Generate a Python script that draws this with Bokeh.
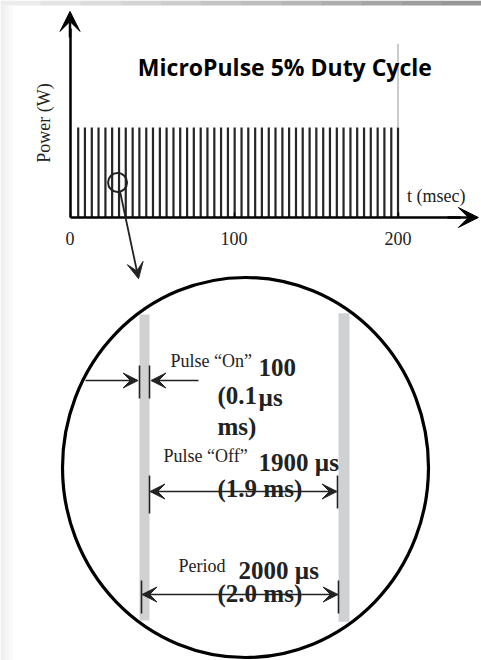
from bokeh.plotting import figure
from bokeh.models import (Range1d, LinearAxis, FixedTicker, Arrow, VeeHead)
from bokeh.core.properties import value
from bokeh.embed import file_html
from bokeh.resources import INLINE
import numpy as np

# ---------------- data ----------------
# pulse start times of the drawn pulse train (msec)
pulse_t = [5.0, 9.1, 13.3, 17.4, 21.6, 25.7, 29.9, 34.0, 38.2, 42.3, 46.5, 50.6,
           54.8, 58.9, 63.1, 67.2, 71.4, 75.5, 79.7, 83.8, 88.0, 92.1, 96.3, 100.4,
           104.6, 108.7, 112.9, 117.0, 121.2, 125.3, 129.5, 133.6, 137.8, 141.9, 146.1, 150.2,
           154.4, 158.5, 162.7, 166.8, 171.0, 175.1, 179.3, 183.4, 187.6, 191.7, 195.9, 200.0]
power_level = 1.0            # relative power of a pulse
x_ticks = [0, 100, 200]      # msec
x_tick_labels = ["0", "100", "200"]
title = "MicroPulse 5% Duty Cycle"
x_label = "t (msec)"
y_label = "Power (W)"

# inset (one period, µs)
on_start, on_end = 0, 100          # pulse "on"
next_start, next_end = 2000, 2100  # next pulse
off_label = ["Pulse \u201cOff\u201d", "1900 \u00b5s", "(1.9 ms)"]
on_label = ["Pulse \u201cOn\u201d", "100", "(0.1", "\u00b5s", "ms)"]
period_label = ["Period", "2000 \u00b5s", "(2.0 ms)"]

SERIF_NAME = "Liberation Serif"
SERIF = value(SERIF_NAME)

W, H = 481, 660
p = figure(width=W, height=H, output_backend="svg", toolbar_location=None,
           x_range=Range1d(-42.378, 250.91), y_range=Range1d(-4.9222, 2.4111),
           x_axis_type=None, y_axis_type=None, min_border=0,
           background_fill_color="white", border_fill_color="white")
p.outline_line_color = None
p.xgrid.visible = False
p.ygrid.visible = False
p.extra_x_ranges = {"us": Range1d(-1390, 3420)}
p.extra_y_ranges = {"row": Range1d(660, 0)}
R = dict(x_range_name="us", y_range_name="row")

# ---------------- picture frame (scan border) ----------------
n = 12
edges = np.linspace(-1390, 3420, n + 1)
greys = np.linspace(236, 150, n).astype(int)
p.quad(left=edges[:-1], right=edges[1:] + 5, top=[0] * n, bottom=[5] * n,
       fill_color=["#%02x%02x%02x" % (g, g, g) for g in greys], line_color=None, **R)
m = 4
ledges = np.linspace(-1390, -1270, m + 1)
lgreys = np.linspace(238, 250, m).astype(int)
p.quad(left=ledges[:-1], right=ledges[1:] + 2, top=[5] * m, bottom=[660] * m,
       fill_color=["#%02x%02x%02x" % (g, g, g) for g in lgreys], line_color=None, **R)

# ---------------- top chart ----------------
p.vbar(x=pulse_t, width=1.35, bottom=0, top=power_level, fill_color="#262626",
       line_color=None)
# faint right edge line
p.segment(x0=[200], y0=[power_level], x1=[200], y1=[1.93], line_color="#999999", line_width=1)

xaxis = LinearAxis(fixed_location=0, bounds=(0, 238), ticker=FixedTicker(ticks=x_ticks),
                   major_label_overrides={t: l for t, l in zip(x_ticks, x_tick_labels)},
                   axis_line_width=2.5, axis_line_color="black",
                   major_tick_in=5, major_tick_out=0, major_tick_line_width=1.5,
                   minor_tick_line_color=None, major_label_standoff=15,
                   major_label_text_font=SERIF_NAME, major_label_text_font_size="18px",
                   major_label_text_color="#222222")
p.add_layout(xaxis, "below")
yaxis = LinearAxis(fixed_location=0, bounds=(0, 2.1), ticker=FixedTicker(ticks=[]),
                   axis_line_width=2.5, axis_line_color="black",
                   major_tick_out=0, major_tick_in=0, minor_tick_line_color=None,
                   axis_label=y_label, axis_label_text_font=SERIF_NAME,
                   axis_label_text_font_size="18px", axis_label_text_font_style="normal",
                   axis_label_text_color="#222222", axis_label_standoff=17)
p.add_layout(yaxis, "left")

p.add_layout(Arrow(x_start=0, y_start=2.0, x_end=0, y_end=2.29,
                   end=VeeHead(size=20, fill_color="black", line_color="black"),
                   line_width=2.5, line_color="black"))
p.add_layout(Arrow(x_start=230, y_start=0, x_end=249.0, y_end=0,
                   end=VeeHead(size=20, fill_color="black", line_color="black"),
                   line_width=2.5, line_color="black"))

p.text(x=[131.0], y=[1.667], text=[title], text_font=value("Open Sans"),
       text_font_style="bold", text_font_size="23px", text_align="center",
       text_baseline="alphabetic", text_color="black")
p.text(x=[205.5], y=[0.244], text=[x_label], text_font=SERIF, text_font_size="18px",
       text_baseline="alphabetic", text_color="#222222")

# magnifier circle and pointer
p.scatter(x=[29.0], y=[0.389], marker="circle", size=19, fill_color=None,
          line_color="#222222", line_width=2)
p.add_layout(Arrow(x_start=30.6, y_start=0.28, x_end=41.8, y_end=-0.68,
                   end=VeeHead(size=16, fill_color="#222222", line_color="#222222"),
                   line_width=1.8, line_color="#222222"))

# ---------------- inset ----------------
cx, cy, ew, eh = 1060, 467, 3660, 380

def band_extent(x_us):
    dx = (x_us - cx) / (ew / 2)
    half = (eh / 2) * np.sqrt(max(0.0, 1 - dx * dx))
    return cy - half + 2, cy + half - 2

bands_l = [on_start, next_start - 10]
bands_r = [on_end, next_end]
tops, bots = [], []
for l, r in zip(bands_l, bands_r):
    edge = l if abs(l - cx) > abs(r - cx) else r
    t_, b_ = band_extent(edge)
    tops.append(t_)
    bots.append(b_)
p.quad(left=bands_l, right=bands_r, top=tops, bottom=bots, fill_color="#d0d1d3",
       line_color=None, **R)
p.ellipse(x=[cx], y=[cy], width=[ew], height=[eh], fill_color=None,
          line_color="black", line_width=3.2, **R)

def tick(xv, y0, y1):
    p.segment(x0=[xv], y0=[y0], x1=[xv], y1=[y1], line_color="#222222", line_width=1.6, **R)

head = lambda: VeeHead(size=15, fill_color="#222222", line_color="#222222")

# pulse on
tick(on_start, 365, 398)
tick(on_end, 365, 398)
p.add_layout(Arrow(x_start=-540, y_start=380, x_end=-15, y_end=380, end=head(),
                   line_width=1.6, line_color="#222222", **R))
p.add_layout(Arrow(x_start=590, y_start=380, x_end=115, y_end=380, end=head(),
                   line_width=1.6, line_color="#222222", **R))
# pulse off
tick(on_end, 475, 513)
tick(1980, 475, 508)
p.add_layout(Arrow(x_start=on_end + 5, y_start=491, x_end=1975, y_end=491, start=head(),
                   end=head(), line_width=1.6, line_color="#222222", **R))
# period
tick(20, 580, 613)
tick(1990, 580, 613)
p.add_layout(Arrow(x_start=25, y_start=594, x_end=1985, y_end=594, start=head(),
                   end=head(), line_width=1.6, line_color="#222222", **R))

small = dict(text_font=SERIF, text_font_size="18px", text_color="#222222",
             text_baseline="alphabetic", **R)
big = dict(text_font=SERIF, text_font_size="25px", text_font_style="bold",
           text_color="#222222", text_baseline="alphabetic", **R)
p.text(x=[310], y=[360], text=[on_label[0]], **small)
p.text(x=[240], y=[455], text=[off_label[0]], **small)
p.text(x=[390], y=[565], text=[period_label[0]], **small)

p.text(x=[1190, 780, 1190, 780], y=[367, 395, 397, 426],
       text=[on_label[1], on_label[2], on_label[3], on_label[4]], **big)
p.text(x=[1190, 780], y=[462, 488], text=[off_label[1], off_label[2]], **big)
p.text(x=[990, 780], y=[570, 593], text=[period_label[1], period_label[2]], **big)

open("out.html", "w").write(file_html(p, INLINE))
